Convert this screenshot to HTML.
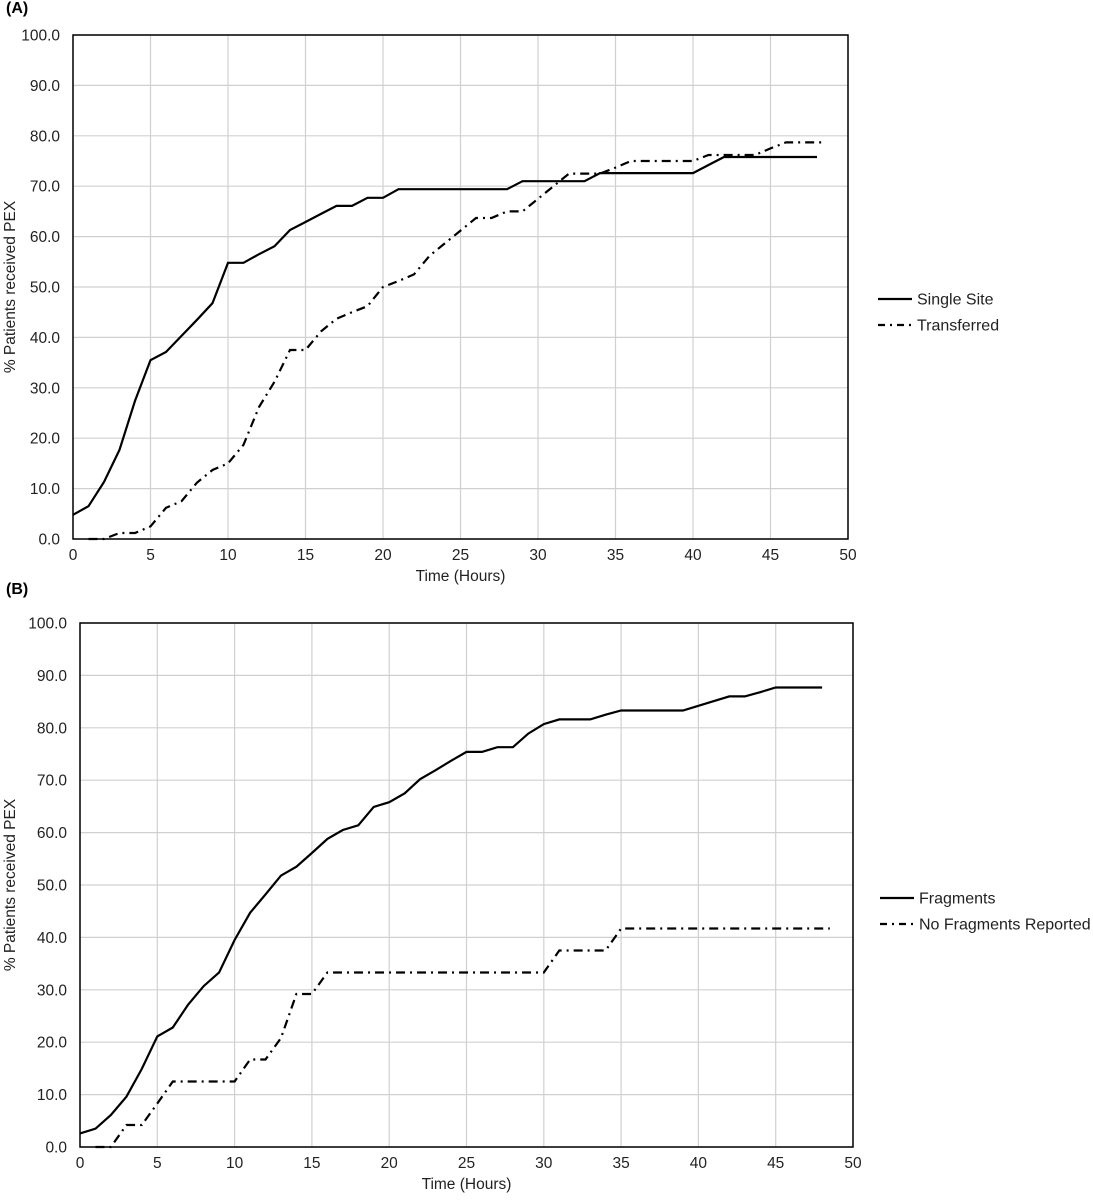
<!DOCTYPE html>
<html><head><meta charset="utf-8"><style>
body{margin:0;background:#fff;}
svg{display:block;font-family:"Liberation Sans",Arial,sans-serif;}
</style></head><body>
<svg id="c" width="1093" height="1200" viewBox="0 0 1093 1200"></svg>
<script>
const hoursA1 = [0,1,2,3,4,5,6,7,8,9,10,11,12,13,14,15,16,17,18,19,20,21,22,23,24,25,26,27,28,29,30,31,32,33,34,35,36,37,38,39,40,41,42,43,44,45,46,47,48];
const singleSite = [4.8,6.5,11.3,17.7,27.4,35.5,37.1,40.3,43.5,46.8,54.8,54.8,56.5,58.1,61.3,62.9,64.5,66.1,66.1,67.7,67.7,69.4,69.4,69.4,69.4,69.4,69.4,69.4,69.4,71.0,71.0,71.0,71.0,71.0,72.6,72.6,72.6,72.6,72.6,72.6,72.6,74.2,75.8,75.8,75.8,75.8,75.8,75.8,75.8];
const hoursA2 = [1,2,3,4,5,6,7,8,9,10,11,12,13,14,15,16,17,18,19,20,21,22,23,24,25,26,27,28,29,30,31,32,33,34,35,36,37,38,39,40,41,42,43,44,45,46,47,48,48.5];
const transferred = [0,0,1.2,1.2,2.5,6.2,7.5,11.2,13.7,15,18.7,26.2,31.2,37.5,37.5,41.2,43.7,45,46.2,50,51.2,52.5,56.2,58.7,61.2,63.7,63.7,65,65,67.5,70,72.5,72.5,72.5,73.7,75,75,75,75,75,76.2,76.2,76.2,76.2,77.5,78.7,78.7,78.7,78.7];
const hoursB1 = [0,1,2,3,4,5,6,7,8,9,10,11,12,13,14,15,16,17,18,19,20,21,22,23,24,25,26,27,28,29,30,31,32,33,34,35,36,37,38,39,40,41,42,43,44,45,46,47,48];
const fragments = [2.6,3.5,6.1,9.6,14.9,21.1,22.8,27.2,30.7,33.3,39.5,44.7,48.2,51.8,53.5,56.1,58.8,60.5,61.4,64.9,65.8,67.5,70.2,71.9,73.7,75.4,75.4,76.3,76.3,78.9,80.7,81.6,81.6,81.6,82.5,83.3,83.3,83.3,83.3,83.3,84.2,85.1,86.0,86.0,86.8,87.7,87.7,87.7,87.7];
const hoursB2 = [1,2,3,4,5,6,7,8,9,10,11,12,13,14,15,16,17,18,19,20,21,22,23,24,25,26,27,28,29,30,31,32,33,34,35,36,37,38,39,40,41,42,43,44,45,46,47,48,48.5];
const noFragments = [0,0,4.2,4.2,8.3,12.5,12.5,12.5,12.5,12.5,16.7,16.7,20.8,29.2,29.2,33.3,33.3,33.3,33.3,33.3,33.3,33.3,33.3,33.3,33.3,33.3,33.3,33.3,33.3,33.3,37.5,37.5,37.5,37.5,41.7,41.7,41.7,41.7,41.7,41.7,41.7,41.7,41.7,41.7,41.7,41.7,41.7,41.7,41.7];
const xTicks = [0,5,10,15,20,25,30,35,40,45,50];
const yTicks = [0,10,20,30,40,50,60,70,80,90,100];

const NS="http://www.w3.org/2000/svg";
const svg=document.getElementById('c');
function mk(tag,attrs,parent){const e=document.createElementNS(NS,tag);for(const k in attrs)e.setAttribute(k,attrs[k]);(parent||svg).appendChild(e);return e;}

function panel(P){
  const g=mk('g',{});
  
  
  const sx=v=>P.x0+(P.x1-P.x0)*v/50;
  const sy=v=>P.y0-(P.y0-P.y1)*v/100;
  const lab=mk('text',{x:P.labX,y:P.labY,'font-size':16,'font-weight':'bold',fill:'#000'},g);
  lab.textContent=P.label;
  
  
  xTicks.forEach(t=>{
    const l=mk('line',{x1:sx(t),x2:sx(t),y1:P.y1,y2:P.y0,stroke:'#d0d0d0','stroke-width':1.2},g);
    
    
    const tx=mk('text',{x:sx(t),y:P.y0+21,'font-size':15.5,'text-anchor':'middle',fill:'#222'},g);
    tx.textContent=t;
    
    
  });
  yTicks.forEach(t=>{
    const l=mk('line',{x1:P.x0,x2:P.x1,y1:sy(t),y2:sy(t),stroke:'#d0d0d0','stroke-width':1.2},g);
    
    
    const tx=mk('text',{x:P.x0-13,y:sy(t)+5.5,'font-size':15.5,'text-anchor':'end',fill:'#222'},g);
    tx.textContent=t.toFixed(1);
    
    
  });
  const fr=mk('rect',{x:P.x0,y:P.y1,width:P.x1-P.x0,height:P.y0-P.y1,fill:'none',stroke:'#000','stroke-width':1.5},g);
  
  
  const xt=mk('text',{x:(P.x0+P.x1)/2,y:P.y0+42,'font-size':15.5,'text-anchor':'middle',fill:'#222'},g);
  xt.textContent='Time (Hours)';
  
  
  const cy=(P.y0+P.y1)/2;
  const yt=mk('text',{x:15,y:cy,'font-size':15.5,'text-anchor':'middle',fill:'#222',transform:`rotate(-90 15 ${cy})`},g);
  yt.textContent='% Patients received PEX';
  
  
  P.series.forEach((s,i)=>{
    const d=s.xs.map((h,j)=>(j?'L':'M')+sx(h).toFixed(1)+' '+sy(s.ys[j]).toFixed(1)).join(' ');
    const p=mk('path',{d:d,fill:'none',stroke:'#000','stroke-width':2.2,'stroke-dasharray':s.dash||'none'},g);
    
    
    const ly=P.legY+i*26;
    const ll=mk('line',{x1:P.legX,x2:P.legX+34,y1:ly,y2:ly,stroke:'#000','stroke-width':2.2,'stroke-dasharray':s.dash?'7 5 2 5':'none'},g);
    
    
    const lt=mk('text',{x:P.legX+39,y:ly+5.5,'font-size':16,fill:'#222'},g);
    lt.textContent=s.label;
    
    
  });
}
panel({name:'panel-a',label:'(A)',labX:6,labY:13,x0:73,x1:848,y0:539,y1:35,legX:878,legY:299,
  series:[{id:'single-site',label:'Single Site',xs:hoursA1,ys:singleSite},
          {id:'transferred',label:'Transferred',xs:hoursA2,ys:transferred,dash:'9 5 2 5'}]});
panel({name:'panel-b',label:'(B)',labX:6,labY:594,x0:80,x1:853,y0:1147,y1:623,legX:880,legY:898,
  series:[{id:'fragments',label:'Fragments',xs:hoursB1,ys:fragments},
          {id:'no-fragments',label:'No Fragments Reported',xs:hoursB2,ys:noFragments,dash:'9 5 2 5'}]});
</script>
</body></html>
